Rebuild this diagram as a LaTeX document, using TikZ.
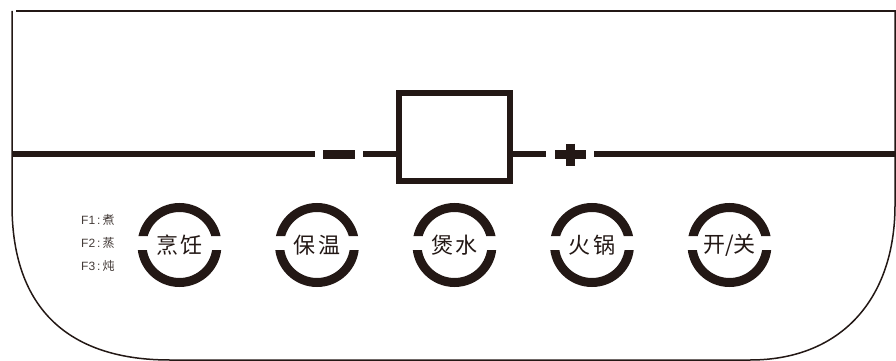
\documentclass[tikz,border=0pt]{standalone}
\usepackage{fontspec}
\setmainfont{Liberation Sans}
\newfontfamily\cjk{Noto Sans CJK SC}
\definecolor{ink}{HTML}{231815}
\tikzset{
  outline/.style={draw=ink, line width=1.5pt},
  bar/.style={draw=ink, line width=6.5pt},
  sign/.style={draw=ink, line width=9pt},
  ring/.style={draw=ink, line width=9pt},
  btntext/.style={text=ink, font=\cjk\fontsize{22}{22}\selectfont, inner sep=0pt},
  flabel/.style={text=ink!85, font=\fontsize{12}{12}\selectfont, inner sep=0pt, anchor=west},
  screen/.style={draw=ink, line width=6pt, minimum width=111pt, minimum height=88pt, inner sep=0pt}
}
\begin{document}
\begin{tikzpicture}[x=1pt,y=-1pt]
\useasboundingbox (0,0) rectangle (896,361);
% outline
\coordinate (tl) at (16,11);
\coordinate (tr) at (896,11);
\draw[outline] (tl) -- (tr);
\coordinate (lt) at (12,11);
\coordinate (rt) at (895,11);
\draw[outline] (lt) -- (12,205) .. controls (12,310) and (70,360) .. (170,360)
  -- (750,360) .. controls (840,360) and (895,300) .. (895,205) -- (rt);
% display bar
\node[screen] (screen) at (454.5,137) {};
\coordinate (b0) at (12,154);
\coordinate (b1) at (315,154);
\coordinate (m0) at (323,154);
\coordinate (m1) at (355,154);
\coordinate (b2) at (363,154);
\coordinate (b3) at (546,154);
\coordinate (b4) at (594,154);
\coordinate (b5) at (896,154);
\coordinate (p0) at (555,154);
\coordinate (p1) at (586,154);
\coordinate (p2) at (570,143.5);
\coordinate (p3) at (570,166);
\draw[bar] (b0) -- (b1);
\draw[sign] (m0) -- (m1);
\draw[bar] (b2) -- (b2 -| screen.west);
\draw[bar] (b3 -| screen.east) -- (b3);
\draw[sign] (p0) -- (p1);
\draw[sign] (p2) -- (p3);
\draw[bar] (b4) -- (b5);
% buttons
\foreach \cx/\nm/\txt in {179.5/cook/{烹\hspace{3pt}饪}, 317/warm/{保\hspace{3pt}温}, 454.5/boil/{煲\hspace{3pt}水}, 592/pot/{火\hspace{3pt}锅}, 729.5/power/{开/关}}{
  \begin{scope}
    \clip (\cx-50,198) rectangle (\cx+50,236) (\cx-50,250) rectangle (\cx+50,292);
    \draw[ring] (\cx,245) circle[radius=37.5];
  \end{scope}
  \node[btntext] (\nm) at (\cx,245) {\txt};
}
% function labels
\node[flabel] (f1) at (81,220) {F1\,:\,{\cjk 煮}};
\node[flabel] (f2) at (81,243) {F2\,:\,{\cjk 蒸}};
\node[flabel] (f3) at (81,266) {F3\,:\,{\cjk 炖}};
\end{tikzpicture}
\end{document}
